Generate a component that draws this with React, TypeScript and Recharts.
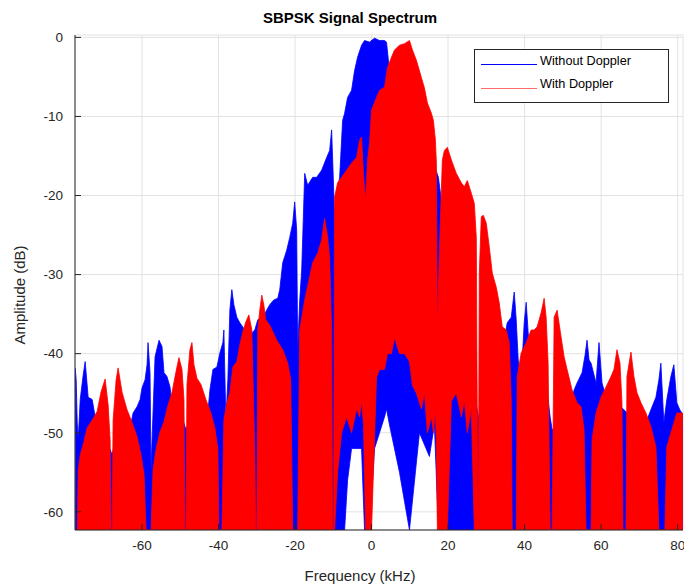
import React from 'react';
import { ComposedChart, Area, XAxis, YAxis, CartesianGrid } from 'recharts';

const FONT = '"Liberation Sans", Arial, Helvetica, sans-serif';
const INK = '#262626';

const TITLE = 'SBPSK Signal Spectrum';
const X_LABEL = 'Frequency (kHz)';
const Y_LABEL = 'Amplitude (dB)';
const SERIES_NAMES = ['Without Doppler', 'With Doppler'];

const X_MIN = -77.5;
const X_MAX = 81.4;
const Y_MIN = -62.3;
const Y_MAX = 0.3;
const xTicks = [-60, -40, -20, 0, 20, 40, 60, 80];
const yTicks = [-60, -50, -40, -30, -20, -10, 0];

// [frequency kHz, amplitude dB] — upper envelope, "Without Doppler"
const blueSpectrum: [number, number][] = [
  [-77.45, -41.8], [-77.19, -43.3], [-76.92, -48.7], [-76.66, -50.9], [-76.14, -45.8], [-75.36, -42.7],
  [-74.84, -41.0], [-74.06, -45.5], [-73.01, -45.8], [-72.23, -48.0], [-71.45, -48.0], [-70.41, -50.9],
  [-69.36, -51.5], [-68.32, -52.1], [-67.8, -52.8], [-67.02, -50.9], [-65.71, -50.3], [-64.41, -49.9],
  [-63.1, -49.4], [-62.32, -47.5], [-61.28, -46.7], [-60.5, -45.8], [-59.97, -44.3], [-59.19, -43.3],
  [-58.67, -41.4], [-58.41, -38.6], [-57.89, -42.4], [-57.63, -54.7], [-57.36, -50.9], [-56.58, -40.4],
  [-55.54, -38.3], [-54.76, -39.1], [-54.24, -42.4], [-53.46, -42.9], [-52.67, -44.2], [-51.89, -47.5],
  [-50.59, -48.4], [-49.28, -48.4], [-48.5, -49.6], [-47.46, -48.4], [-46.15, -48.4], [-44.85, -47.7],
  [-43.54, -48.4], [-43.02, -48.7], [-42.24, -44.6], [-41.46, -42.0], [-40.42, -41.7], [-39.63, -39.9],
  [-38.85, -38.6], [-38.59, -37.0], [-38.07, -48.4], [-37.55, -43.3], [-37.03, -34.5], [-36.51, -31.9],
  [-35.98, -33.8], [-35.2, -35.4], [-34.42, -36.1], [-33.12, -37.0], [-31.81, -37.6], [-30.51, -37.0],
  [-29.73, -35.7], [-28.68, -35.5], [-27.64, -34.7], [-26.6, -33.8], [-25.55, -33.2], [-24.51, -33.0],
  [-23.99, -31.9], [-23.21, -28.5], [-22.16, -26.9], [-21.38, -25.3], [-20.6, -23.5], [-20.08, -20.8],
  [-19.56, -24.4], [-19.3, -39.5], [-18.77, -33.2], [-18.25, -29.4], [-17.47, -17.2], [-16.69, -18.7],
  [-15.38, -17.7], [-14.34, -17.7], [-13.04, -16.8], [-11.73, -15.2], [-10.95, -14.3], [-10.43, -11.7],
  [-9.65, -22.7], [-8.87, -19.3], [-8.34, -17.7], [-7.56, -10.5], [-7.04, -9.6], [-6.26, -7.6],
  [-5.22, -6.7], [-4.43, -4.2], [-3.65, -2.5], [-2.61, -1.0], [-1.83, -0.4], [-0.52, -0.6],
  [0.78, -0.1], [2.09, -0.4], [3.39, -0.4], [3.91, -0.6], [4.69, -4.2], [7.3, -6.7],
  [9.91, -9.2], [12.52, -11.7], [15.12, -14.3], [16.43, -16.2], [17.47, -17.7], [18.25, -20.6],
  [19.3, -28.2], [20.34, -33.2], [21.64, -38.3], [22.95, -40.8], [24.25, -43.3], [25.55, -44.6],
  [26.86, -45.2], [28.16, -48.4], [29.47, -49.6], [30.77, -48.4], [32.07, -45.8], [33.38, -43.3],
  [34.68, -38.3], [35.46, -36.1], [36.51, -35.4], [37.29, -32.2], [37.81, -35.7], [38.33, -40.8],
  [39.11, -43.3], [39.9, -36.1], [40.42, -33.5], [40.94, -37.4], [41.72, -40.8], [43.81, -42.0],
  [45.11, -43.3], [46.15, -45.8], [46.68, -48.0], [47.2, -49.6], [49.02, -49.6], [51.63, -47.1],
  [52.93, -44.6], [53.72, -43.7], [55.02, -42.4], [55.8, -40.2], [56.32, -38.3], [56.85, -40.8],
  [57.37, -41.2], [58.67, -43.7], [59.45, -38.6], [60.24, -43.7], [61.28, -45.5], [62.06, -45.8],
  [64.67, -46.5], [65.97, -47.1], [67.28, -47.7], [69.88, -48.4], [71.19, -49.6], [71.97, -48.4],
  [73.01, -47.1], [74.32, -45.5], [75.1, -43.3], [75.62, -41.2], [76.39, -48.7], [77.17, -45.8],
  [78.23, -42.9], [79.01, -41.4], [79.79, -46.2], [80.57, -47.1], [81.35, -47.7],
];

// [frequency kHz, amplitude dB] — upper envelope, "With Doppler"
const redSpectrum: [number, number][] = [
  [-77.06, -62.3], [-76.92, -62.3], [-76.66, -54.7], [-76.14, -52.8], [-75.36, -51.5], [-74.32, -49.4],
  [-73.01, -48.4], [-71.71, -47.3], [-70.67, -44.8], [-69.62, -43.2], [-68.84, -46.5], [-68.32, -50.9],
  [-68.06, -62.3], [-67.8, -62.3], [-67.54, -48.4], [-66.75, -43.3], [-66.23, -41.8], [-65.19, -44.9],
  [-63.89, -47.1], [-62.58, -48.7], [-61.28, -50.5], [-60.24, -52.8], [-59.45, -55.3], [-58.93, -62.3],
  [-57.63, -62.3], [-57.1, -54.7], [-56.32, -52.1], [-55.28, -49.9], [-54.24, -48.6], [-53.19, -46.5],
  [-52.15, -44.9], [-51.11, -42.3], [-50.33, -40.5], [-49.54, -42.0], [-49.02, -45.8], [-48.76, -62.3],
  [-48.5, -62.3], [-48.24, -43.9], [-47.46, -39.5], [-46.94, -38.6], [-46.41, -41.4], [-45.63, -43.1],
  [-44.59, -43.9], [-43.28, -45.8], [-41.98, -47.5], [-40.94, -49.4], [-40.15, -52.1], [-39.89, -62.3],
  [-39.11, -62.3], [-38.59, -48.4], [-37.81, -46.2], [-37.03, -44.9], [-36.24, -41.7], [-35.2, -41.0],
  [-34.42, -38.9], [-33.64, -37.2], [-32.86, -36.0], [-32.07, -35.1], [-31.29, -37.0], [-30.51, -52.1],
  [-30.25, -62.3], [-29.99, -62.3], [-29.73, -37.0], [-29.21, -34.5], [-28.68, -32.6], [-28.16, -33.8],
  [-27.64, -35.7], [-26.6, -36.4], [-24.77, -38.3], [-23.21, -39.5], [-21.9, -41.2], [-21.12, -43.3],
  [-20.6, -62.3], [-19.3, -62.3], [-18.77, -37.0], [-17.47, -33.2], [-16.17, -30.3], [-15.38, -28.5],
  [-14.08, -27.3], [-13.04, -25.6], [-12.26, -22.9], [-11.47, -25.3], [-10.95, -27.8], [-10.43, -37.0],
  [-10.17, -62.3], [-9.91, -62.3], [-9.65, -20.2], [-8.87, -18.4], [-7.82, -17.7], [-6.52, -16.8],
  [-5.22, -15.9], [-3.91, -15.2], [-3.13, -13.0], [-2.61, -12.6], [-2.09, -17.4], [-1.56, -20.6],
  [-1.04, -15.5], [-0.52, -13.4], [0.0, -9.2], [1.3, -7.6], [2.09, -6.7], [3.39, -6.3],
  [4.17, -3.8], [5.22, -2.5], [6.0, -1.6], [7.3, -1.0], [8.61, -0.8], [9.91, -0.4],
  [10.69, -1.6], [11.73, -2.9], [13.04, -5.1], [13.82, -6.4], [14.6, -8.3], [15.65, -9.6],
  [16.17, -10.5], [16.69, -13.0], [16.95, -15.9], [17.21, -37.0], [17.73, -26.9], [18.51, -15.5],
  [19.04, -14.3], [19.82, -13.9], [20.86, -15.5], [22.16, -17.2], [23.47, -18.4], [24.25, -18.9],
  [25.03, -18.1], [26.08, -19.7], [26.86, -21.0], [27.38, -25.3], [27.64, -48.4], [27.9, -62.3],
  [28.16, -29.8], [28.68, -22.7], [29.21, -22.5], [29.99, -23.5], [30.77, -26.5], [31.55, -29.8],
  [32.6, -31.6], [33.38, -33.6], [34.16, -36.6], [35.2, -37.0], [35.98, -38.6], [36.51, -45.8],
  [36.77, -62.3], [37.81, -62.3], [38.07, -42.9], [39.11, -39.9], [40.42, -38.6], [41.72, -37.0],
  [42.5, -37.0], [43.29, -36.6], [44.33, -34.8], [45.11, -33.0], [45.63, -35.4], [46.15, -41.2],
  [46.68, -62.3], [47.2, -62.3], [47.72, -35.4], [48.5, -34.5], [49.54, -37.9], [50.33, -40.4],
  [51.11, -42.0], [52.41, -44.6], [53.72, -46.2], [54.76, -46.7], [55.54, -49.6], [56.06, -62.3],
  [57.37, -62.3], [57.63, -50.9], [58.67, -47.5], [59.97, -45.5], [61.28, -44.2], [62.58, -42.9],
  [63.36, -42.0], [64.15, -39.5], [64.93, -41.2], [65.45, -46.2], [65.71, -62.3], [66.49, -62.3],
  [66.75, -42.9], [67.8, -39.8], [68.58, -42.9], [69.36, -44.9], [70.41, -46.2], [71.71, -47.5],
  [73.01, -49.2], [74.32, -51.8], [75.1, -62.3], [76.66, -62.3], [77.17, -51.8], [78.49, -49.6],
  [79.79, -47.5], [81.35, -47.5],
];

// lower edge of the dense trace where it does not reach the bottom: [frequency kHz, lowest dB]
const blueFloor: [number, number][] = [
  [-6.26, -56], [-5.22, -52], [-4.43, -52], [-3.65, -52], [-2.61, -52],
  [0.78, -52], [2.09, -50], [3.39, -48], [3.91, -47], [4.69, -49], [7.3, -55],
  [12.52, -50], [15.12, -53], [16.43, -49],
];
const redFloor: [number, number][] = [
  [-8.87, -55], [-7.82, -50], [-6.52, -48], [-5.22, -50], [-3.91, -47], [-3.13, -48], [-2.61, -46], [-2.09, -49],
  [1.3, -43], [2.09, -42], [3.39, -42], [4.17, -40], [5.22, -40], [6.0, -38], [7.3, -40], [8.61, -40],
  [9.91, -41], [10.69, -44], [11.73, -45], [13.04, -47], [13.82, -45], [14.6, -50], [15.65, -48],
  [16.17, -50], [16.69, -47], [16.95, -52],
  [20.86, -46], [22.16, -45], [23.47, -48], [24.25, -46], [25.03, -50], [26.08, -47],
];

function buildTable(spec: [number, number][], floor: [number, number][]) {
  return spec.map(([f, db]) => {
    const hit = floor.find(([ff]) => Math.abs(ff - f) < 1e-6);
    const lo = hit ? Math.min(hit[1], db) : Y_MIN;
    return { f, band: [lo, db] };
  });
}

const blueData = buildTable(blueSpectrum, blueFloor);
const redData = buildTable(redSpectrum, redFloor);

const BLUE = '#0000ff';
const RED = '#ff0000';

export default function App() {
  const axisCommon = {
    type: 'number' as const,
    allowDataOverflow: true,
    axisLine: { stroke: INK, strokeWidth: 1 },
    tickLine: { stroke: INK, strokeWidth: 1 },
    tickSize: -6,
    interval: 0 as const,
  };
  return (
    <div style={{ position: 'absolute', left: 0, top: 0, width: 684, height: 587, background: '#fff', fontFamily: FONT }}>
      <ComposedChart width={684} height={587} margin={{ top: 35, right: 1, bottom: 0, left: 0 }} style={{ fontFamily: FONT }}>
        <CartesianGrid stroke="#e2e2e2" strokeWidth={1} />
        <XAxis {...axisCommon} dataKey="f" domain={[X_MIN, X_MAX]} ticks={xTicks} height={57} tickMargin={16}
          tick={{ fill: INK, fontSize: 13.5, fontFamily: FONT }} />
        <XAxis {...axisCommon} xAxisId="top" orientation="top" dataKey="f" domain={[X_MIN, X_MAX]} ticks={xTicks} height={0} tick={false} />
        <YAxis {...axisCommon} domain={[Y_MIN, Y_MAX]} ticks={yTicks} width={75} tickMargin={18}
          tick={{ fill: INK, fontSize: 13.5, fontFamily: FONT }} />
        <YAxis {...axisCommon} yAxisId="right" orientation="right" domain={[Y_MIN, Y_MAX]} ticks={yTicks} width={0} tick={false} />
        <Area data={blueData} dataKey="band" type="linear" stroke={BLUE} strokeWidth={0.8} fill={BLUE} fillOpacity={1}
          isAnimationActive={false} dot={false} activeDot={false} />
        <Area data={redData} dataKey="band" type="linear" stroke={RED} strokeWidth={0.8} fill={RED} fillOpacity={1}
          isAnimationActive={false} dot={false} activeDot={false} />
      </ComposedChart>

      <div style={{ position: 'absolute', left: 150, width: 400, top: 8, textAlign: 'center', fontWeight: 'bold', fontSize: 15, color: '#000', lineHeight: '20px' }}>{TITLE}</div>
      <div style={{ position: 'absolute', left: 260, width: 200, top: 567, textAlign: 'center', fontSize: 15, color: INK, lineHeight: '18px' }}>{X_LABEL}</div>
      <div style={{ position: 'absolute', left: 20, top: 295, width: 0, height: 0 }}>
        <div style={{ position: 'absolute', left: -100, top: -9, width: 200, textAlign: 'center', fontSize: 15, color: INK, lineHeight: '18px', transform: 'rotate(-90deg)' }}>{Y_LABEL}</div>
      </div>

      <div style={{ position: 'absolute', left: 474, top: 49, width: 193, height: 52, border: `1px solid ${INK}`, background: '#fff' }}>
        <svg width={193} height={52} style={{ position: 'absolute', left: 0, top: 0 }}>
          <line x1={6} x2={62} y1={14.5} y2={14.5} stroke={BLUE} strokeWidth={1} />
          <line x1={6} x2={62} y1={38.5} y2={38.5} stroke="#ff6a6a" strokeWidth={1.2} />
        </svg>
        <div style={{ position: 'absolute', left: 65, top: 3, fontSize: 12.7, color: '#000', lineHeight: '16px', whiteSpace: 'nowrap' }}>{SERIES_NAMES[0]}</div>
        <div style={{ position: 'absolute', left: 65, top: 26, fontSize: 12.7, color: '#000', lineHeight: '16px', whiteSpace: 'nowrap' }}>{SERIES_NAMES[1]}</div>
      </div>
    </div>
  );
}
